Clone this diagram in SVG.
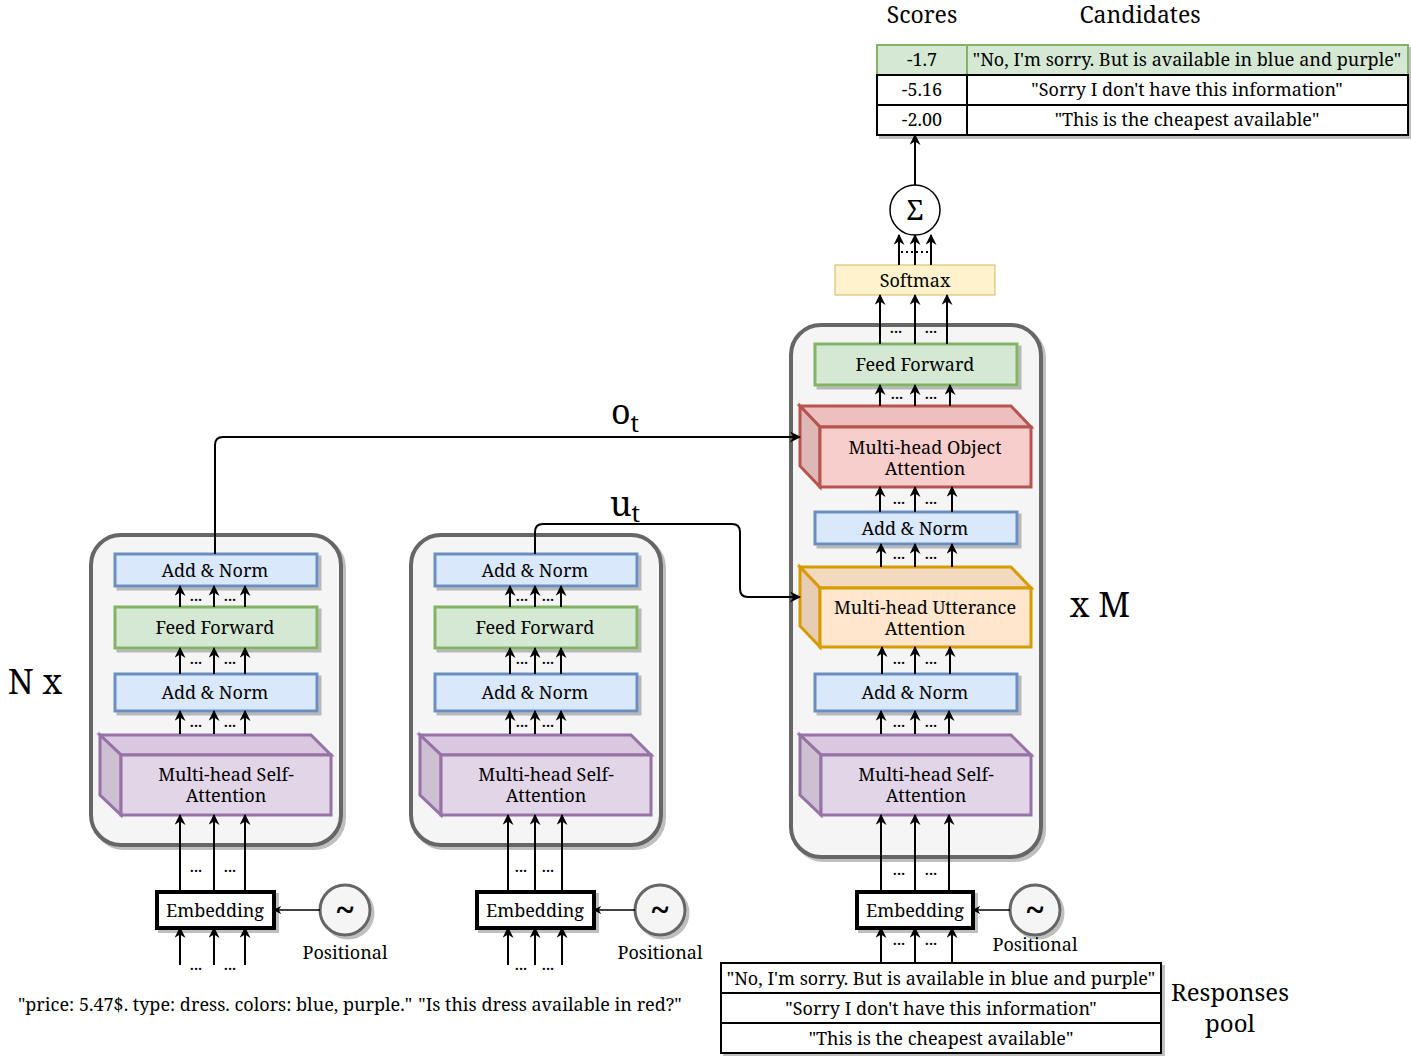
<svg xmlns="http://www.w3.org/2000/svg" width="1411" height="1056" viewBox="0 0 1411 1056">
<defs>
<marker id="ah" viewBox="0 0 10 10" refX="9" refY="5" markerWidth="11" markerHeight="11" markerUnits="userSpaceOnUse" orient="auto">
<path d="M0,0 L10,5 L0,10 L3,5 Z" fill="#000"/>
</marker>
<marker id="ahs" viewBox="0 0 10 10" refX="9" refY="5" markerWidth="8" markerHeight="8" markerUnits="userSpaceOnUse" orient="auto">
<path d="M0,0 L10,5 L0,10 L3,5 Z" fill="#000"/>
</marker>
<filter id="sh" x="-10%" y="-10%" width="130%" height="130%">
<feDropShadow dx="3" dy="3" stdDeviation="0.6" flood-color="#000" flood-opacity="0.25"/>
</filter>
</defs>
<style>
text{font-family:"Noto Serif","DejaVu Serif","Liberation Serif",serif;fill:#000;text-anchor:middle}
.t{font-size:18px}
.dots{font-size:14px;font-weight:bold}
.big{font-size:34px}
.tl{font-size:34px;font-weight:bold}
.cont{fill:#f5f5f5;stroke:#666;stroke-width:4}
.an{fill:#dae8fc;stroke:#6c8ebf;stroke-width:3}
.ff{fill:#d5e8d4;stroke:#82b366;stroke-width:3}
.pf{fill:#e1d5e7;stroke:#9673a6;stroke-width:3}
.pt{fill:#d9c8df;stroke:#9673a6;stroke-width:3}
.ps{fill:#cdc0d2;stroke:#9673a6;stroke-width:3}
.rf{fill:#f8cecc;stroke:#b85450;stroke-width:3}
.rt{fill:#ecc0be;stroke:#b85450;stroke-width:3}
.rs{fill:#ddb8b6;stroke:#b85450;stroke-width:3}
.of{fill:#ffe6cc;stroke:#d79b00;stroke-width:3}
.ot{fill:#f2d9c0;stroke:#d79b00;stroke-width:3}
.os{fill:#e6cdb4;stroke:#d79b00;stroke-width:3}
.emb{fill:#fff;stroke:#000;stroke-width:4}
.pos{fill:#f5f5f5;stroke:#666;stroke-width:3}
.a{stroke:#000;stroke-width:2;fill:none;marker-end:url(#ah)}
.l{stroke:#000;stroke-width:1.3;fill:none;marker-end:url(#ahs)}
.cell{fill:#fff;stroke:#000;stroke-width:2}
.cellg{fill:#d5e8d4;stroke:#82b366;stroke-width:2}
</style>

<!-- Labels -->
<text x="922" y="23" style="font-size:23px">Scores</text>
<text x="1140" y="23" style="font-size:23px">Candidates</text>
<text x="35" y="694" class="big">N x</text>
<text x="1100" y="617" class="big">x M</text>
<text x="625" y="424" style="font-size:34px">o<tspan dy="8" style="font-size:24px">t</tspan></text>
<text x="625" y="516" style="font-size:34px">u<tspan dy="6" style="font-size:24px">t</tspan></text>
<text x="1230" y="1001" style="font-size:24px">Responses<tspan x="1230" dy="31">pool</tspan></text>
<text x="215" y="1011" class="t">"price: 5.47$. type: dress. colors: blue, purple."</text>
<text x="550" y="1011" class="t">"Is this dress available in red?"</text>

<!-- Score table -->
<g id="scores" filter="url(#sh)">
<rect x="877" y="45" width="90" height="30" class="cellg"/>
<rect x="967" y="45" width="441" height="30" class="cellg"/>
<rect x="877" y="75" width="90" height="30" class="cell"/>
<rect x="967" y="75" width="441" height="30" class="cell"/>
<rect x="877" y="105" width="90" height="30" class="cell"/>
<rect x="967" y="105" width="441" height="30" class="cell"/>
</g>
<text x="922" y="66" class="t">-1.7</text>
<text x="1187" y="66" class="t">"No, I'm sorry. But is available in blue and purple"</text>
<text x="922" y="96" class="t">-5.16</text>
<text x="1187" y="96" class="t">"Sorry I don't have this information"</text>
<text x="922" y="126" class="t">-2.00</text>
<text x="1187" y="126" class="t">"This is the cheapest available"</text>

<!-- Sum -->
<g id="sum">
<circle cx="915" cy="210" r="25" fill="#fff" stroke="#000" stroke-width="1.5"/>
<text x="915" y="220" style="font-size:28px">Σ</text>
</g>

<!-- Softmax -->
<g id="softmax">
<rect x="835" y="265" width="160" height="30" fill="#fff2cc" stroke="#d6b656" stroke-width="1"/>
<text x="915" y="287" class="t">Softmax</text>
</g>

<!-- Left encoder -->
<g id="enc1">
<rect x="91" y="535" width="250" height="310" rx="30" class="cont" filter="url(#sh)"/>
<g filter="url(#sh)">
<rect x="115" y="554" width="202" height="32" class="an"/>
<rect x="115" y="607" width="202" height="41" class="ff"/>
<rect x="115" y="674" width="202" height="37" class="an"/>
</g>
<polygon points="100,735 311,735 331,755 121,755" class="pt"/>
<polygon points="100,735 121,755 121,815 100,795" class="ps"/>
<rect x="121" y="755" width="210" height="60" class="pf"/>
<text x="215" y="577" class="t">Add &amp; Norm</text>
<text x="215" y="634" class="t">Feed Forward</text>
<text x="215" y="699" class="t">Add &amp; Norm</text>
<text x="226" y="781" class="t">Multi-head Self-<tspan x="226" dy="21">Attention</tspan></text>
</g>

<!-- Middle encoder -->
<g id="enc2">
<rect x="411" y="535" width="250" height="310" rx="30" class="cont" filter="url(#sh)"/>
<g filter="url(#sh)">
<rect x="435" y="554" width="202" height="32" class="an"/>
<rect x="435" y="607" width="202" height="41" class="ff"/>
<rect x="435" y="674" width="202" height="37" class="an"/>
</g>
<polygon points="420,735 631,735 651,755 441,755" class="pt"/>
<polygon points="420,735 441,755 441,815 420,795" class="ps"/>
<rect x="441" y="755" width="210" height="60" class="pf"/>
<text x="535" y="577" class="t">Add &amp; Norm</text>
<text x="535" y="634" class="t">Feed Forward</text>
<text x="535" y="699" class="t">Add &amp; Norm</text>
<text x="546" y="781" class="t">Multi-head Self-<tspan x="546" dy="21">Attention</tspan></text>
</g>

<!-- Decoder -->
<g id="dec">
<rect x="791" y="325" width="250" height="532" rx="30" class="cont" filter="url(#sh)"/>
<g filter="url(#sh)">
<rect x="815" y="344" width="202" height="41" class="ff"/>
<rect x="815" y="512" width="202" height="32" class="an"/>
<rect x="815" y="674" width="202" height="37" class="an"/>
</g>
<polygon points="800,406 1011,406 1031,427 820,427" class="rt"/>
<polygon points="800,406 820,427 820,487 800,466" class="rs"/>
<rect x="820" y="427" width="211" height="60" class="rf"/>
<polygon points="800,567 1011,567 1031,588 820,588" class="ot"/>
<polygon points="800,567 820,588 820,647 800,626" class="os"/>
<rect x="820" y="588" width="211" height="59" class="of"/>
<polygon points="800,735 1011,735 1031,755 821,755" class="pt"/>
<polygon points="800,735 821,755 821,815 800,795" class="ps"/>
<rect x="821" y="755" width="210" height="60" class="pf"/>
<text x="915" y="371" class="t">Feed Forward</text>
<text x="925" y="454" class="t">Multi-head Object<tspan x="925" dy="21">Attention</tspan></text>
<text x="915" y="535" class="t">Add &amp; Norm</text>
<text x="925" y="614" class="t">Multi-head Utterance<tspan x="925" dy="21">Attention</tspan></text>
<text x="915" y="699" class="t">Add &amp; Norm</text>
<text x="926" y="781" class="t">Multi-head Self-<tspan x="926" dy="21">Attention</tspan></text>
</g>

<!-- Embeddings -->
<g id="emb1">
<rect x="157" y="892" width="117" height="36" class="emb" filter="url(#sh)"/>
<text x="215" y="917" class="t">Embedding</text>
</g>
<g id="pos1">
<circle cx="345" cy="910" r="25" class="pos" filter="url(#sh)"/>
<text x="345" y="922" class="tl">~</text>
<text x="345" y="959" class="t">Positional</text>
</g>
<g id="emb2">
<rect x="477" y="892" width="117" height="36" class="emb" filter="url(#sh)"/>
<text x="535" y="917" class="t">Embedding</text>
</g>
<g id="pos2">
<circle cx="660" cy="910" r="25" class="pos" filter="url(#sh)"/>
<text x="660" y="922" class="tl">~</text>
<text x="660" y="959" class="t">Positional</text>
</g>
<g id="emb3">
<rect x="857" y="892" width="116" height="36" class="emb" filter="url(#sh)"/>
<text x="915" y="917" class="t">Embedding</text>
</g>
<g id="pos3">
<circle cx="1035" cy="910" r="25" class="pos" filter="url(#sh)"/>
<text x="1035" y="922" class="tl">~</text>
<text x="1035" y="951" class="t">Positional</text>
</g>

<!-- Responses pool -->
<g id="pool" filter="url(#sh)">
<rect x="721" y="963" width="440" height="30" class="cell"/>
<rect x="721" y="993" width="440" height="30" class="cell"/>
<rect x="721" y="1023" width="440" height="30" class="cell"/>
</g>
<text x="941" y="985" class="t">"No, I'm sorry. But is available in blue and purple"</text>
<text x="941" y="1015" class="t">"Sorry I don't have this information"</text>
<text x="941" y="1045" class="t">"This is the cheapest available"</text>

<!-- Connectors -->
<g id="connectors">
<path class="a" d="M180,965V928"/><path class="a" d="M214,965V928"/><path class="a" d="M245,965V928"/>
<path class="a" d="M180,892V815"/><path class="a" d="M214,892V815"/><path class="a" d="M245,892V815"/>
<path class="a" d="M180,734V711"/><path class="a" d="M214,734V711"/><path class="a" d="M245,734V711"/>
<path class="a" d="M180,674V648"/><path class="a" d="M214,674V648"/><path class="a" d="M245,674V648"/>
<path class="a" d="M180,607V586"/><path class="a" d="M214,607V586"/><path class="a" d="M245,607V586"/>
<path class="l" d="M320,910H274"/>
<path class="a" d="M508,965V928"/><path class="a" d="M535,965V928"/><path class="a" d="M562,965V928"/>
<path class="a" d="M508,892V815"/><path class="a" d="M535,892V815"/><path class="a" d="M562,892V815"/>
<path class="a" d="M510,734V711"/><path class="a" d="M535,734V711"/><path class="a" d="M561,734V711"/>
<path class="a" d="M510,674V648"/><path class="a" d="M535,674V648"/><path class="a" d="M561,674V648"/>
<path class="a" d="M510,607V586"/><path class="a" d="M535,607V586"/><path class="a" d="M561,607V586"/>
<path class="l" d="M635,910H594"/>
<path class="a" d="M881,963V928"/><path class="a" d="M915,963V928"/><path class="a" d="M952,963V928"/>
<path class="a" d="M881,892V815"/><path class="a" d="M915,892V815"/><path class="a" d="M949,892V815"/>
<path class="a" d="M881,734V711"/><path class="a" d="M915,734V711"/><path class="a" d="M949,734V711"/>
<path class="a" d="M882,674V647"/><path class="a" d="M915,674V647"/><path class="a" d="M950,674V647"/>
<path class="a" d="M881,567V544"/><path class="a" d="M915,567V544"/><path class="a" d="M952,567V544"/>
<path class="a" d="M880,512V487"/><path class="a" d="M915,512V487"/><path class="a" d="M952,512V487"/>
<path class="a" d="M880,406V385"/><path class="a" d="M915,406V385"/><path class="a" d="M950,406V385"/>
<path class="a" d="M880,344V295"/><path class="a" d="M915,344V295"/><path class="a" d="M947,344V295"/>
<path class="a" d="M899,265V235"/><path class="a" d="M915,265V235"/><path class="a" d="M931,265V235"/>
<path d="M901,252H929" stroke="#000" stroke-width="2" stroke-dasharray="2,3" fill="none"/>
<path class="a" d="M915,185V135"/>
<path class="l" d="M1010,910H973"/>
<path class="a" d="M215,554V445Q215,437 223,437H800"/>
<path class="a" d="M535,554V532Q535,524 543,524H732Q740,524 740,532V589Q740,597 748,597H800"/>
</g>

<!-- dots -->
<g>
<text x="196" y="970" class="dots">...</text><text x="230" y="970" class="dots">...</text>
<text x="196" y="872" class="dots">...</text><text x="230" y="872" class="dots">...</text>
<text x="196" y="727" class="dots">...</text><text x="230" y="727" class="dots">...</text>
<text x="196" y="664" class="dots">...</text><text x="230" y="664" class="dots">...</text>
<text x="196" y="601" class="dots">...</text><text x="230" y="601" class="dots">...</text>
<text x="521" y="970" class="dots">...</text><text x="548" y="970" class="dots">...</text>
<text x="521" y="872" class="dots">...</text><text x="548" y="872" class="dots">...</text>
<text x="522" y="727" class="dots">...</text><text x="548" y="727" class="dots">...</text>
<text x="522" y="664" class="dots">...</text><text x="548" y="664" class="dots">...</text>
<text x="522" y="601" class="dots">...</text><text x="548" y="601" class="dots">...</text>
<text x="899" y="945" class="dots">...</text><text x="931" y="945" class="dots">...</text>
<text x="899" y="875" class="dots">...</text><text x="931" y="875" class="dots">...</text>
<text x="899" y="727" class="dots">...</text><text x="931" y="727" class="dots">...</text>
<text x="899" y="664" class="dots">...</text><text x="931" y="664" class="dots">...</text>
<text x="899" y="559" class="dots">...</text><text x="931" y="559" class="dots">...</text>
<text x="899" y="504" class="dots">...</text><text x="931" y="504" class="dots">...</text>
<text x="897" y="399" class="dots">...</text><text x="931" y="399" class="dots">...</text>
<text x="896" y="333" class="dots">...</text><text x="931" y="333" class="dots">...</text>
</g>
</svg>
